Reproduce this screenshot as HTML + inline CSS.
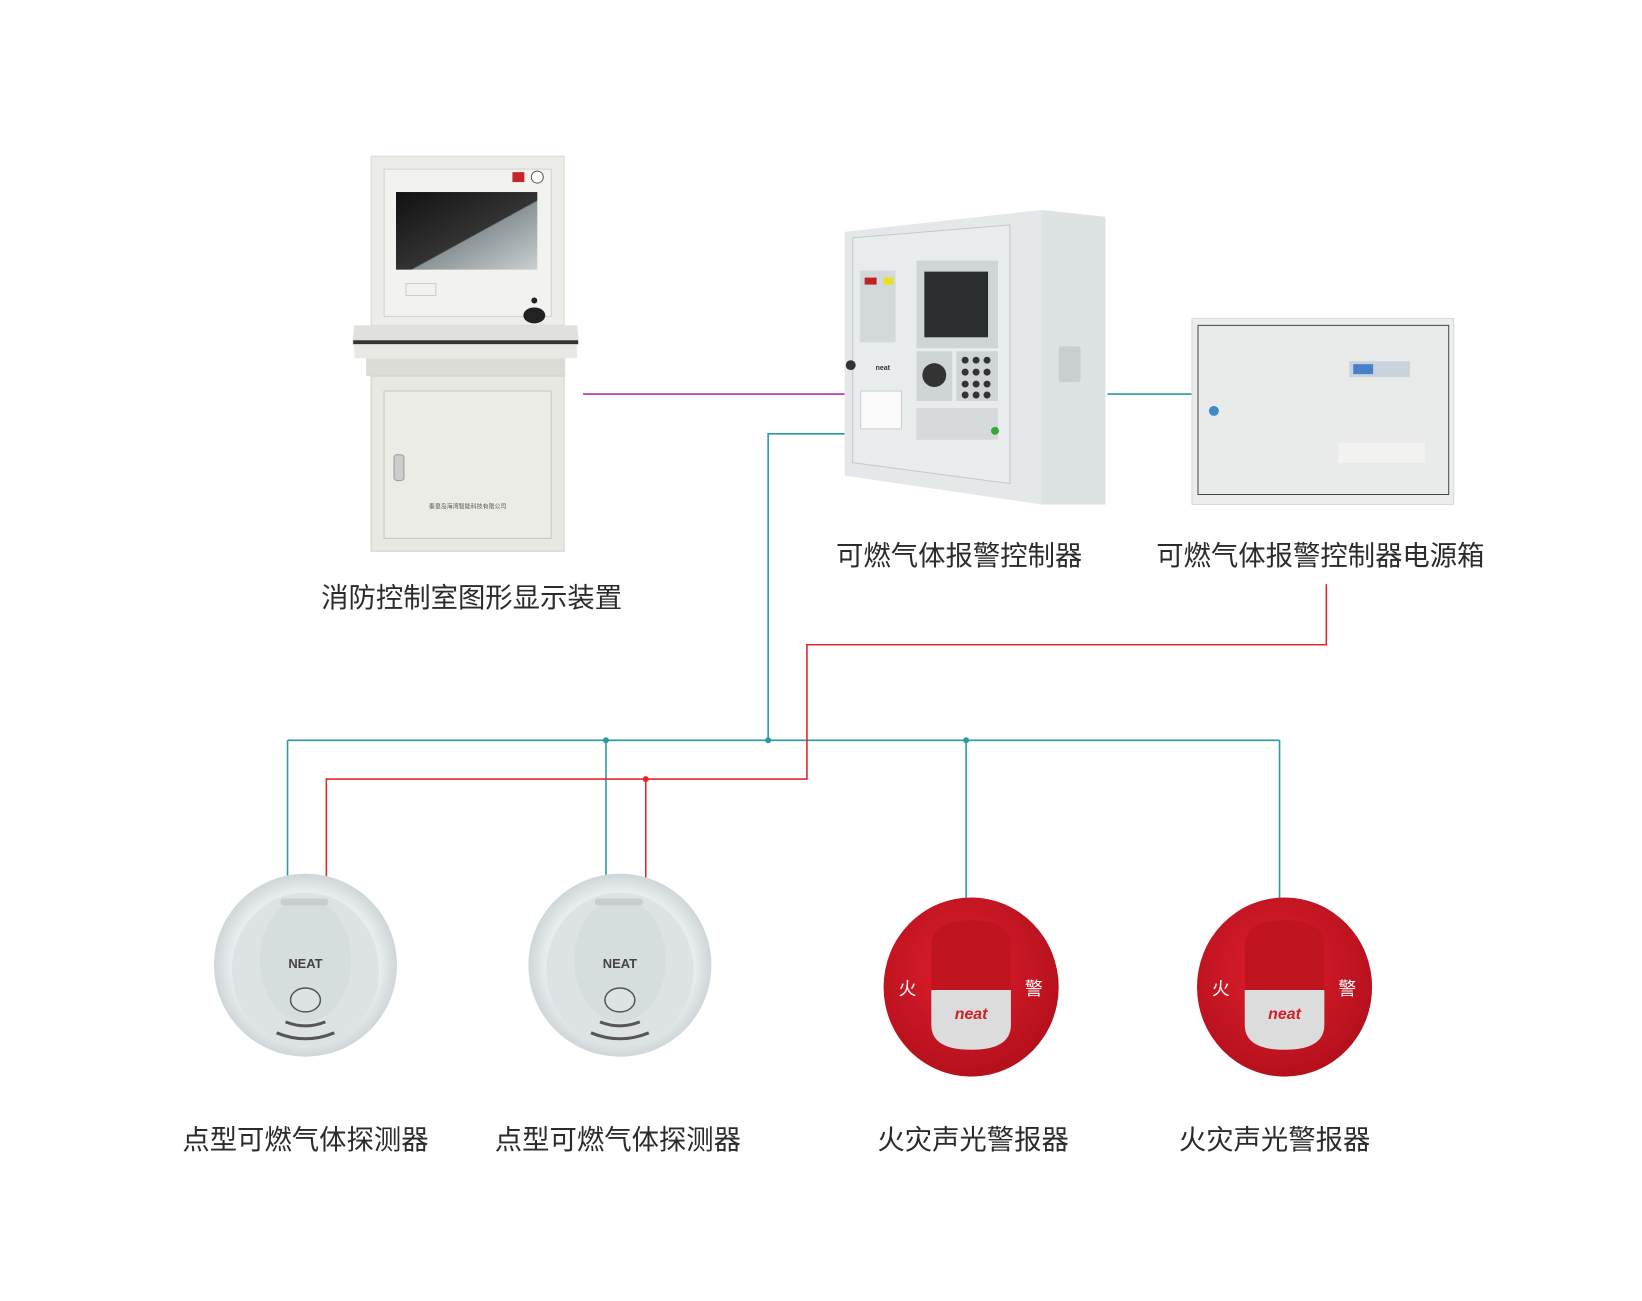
<!DOCTYPE html>
<html><head><meta charset="utf-8"><style>
html,body{margin:0;padding:0;background:#fff;}
svg{display:block}
text{font-family:"Liberation Sans","Noto Sans CJK SC",sans-serif;}
</style></head><body>
<svg width="1642" height="1301" viewBox="0 0 1642 1301" xmlns="http://www.w3.org/2000/svg">
<defs>
<linearGradient id="scr" x1="0" y1="0" x2="1" y2="1"><stop offset="0" stop-color="#111"/><stop offset="0.55" stop-color="#333"/><stop offset="0.56" stop-color="#8a9396"/><stop offset="1" stop-color="#c9d0d2"/></linearGradient>
<radialGradient id="det" cx="0.5" cy="0.5" r="0.5"><stop offset="0" stop-color="#dfe4e6"/><stop offset="0.8" stop-color="#e9edee"/><stop offset="1" stop-color="#cfd6d8"/></radialGradient>
<radialGradient id="red" cx="0.45" cy="0.4" r="0.6"><stop offset="0" stop-color="#e0202e"/><stop offset="1" stop-color="#b5101c"/></radialGradient>
</defs>
<g transform="scale(0.995)">
<!-- connectors -->
<g fill="none" stroke-width="1.6">
<line x1="586" y1="396" x2="849" y2="396" stroke="#b330b8"/>
<line x1="1113" y1="396" x2="1198" y2="396" stroke="#2a9a9e"/>
<polyline points="849,436 772,436 772,744" stroke="#2a9a9e"/>
<line x1="289" y1="744" x2="1286" y2="744" stroke="#2a9a9e"/>
<line x1="289" y1="744" x2="289" y2="882" stroke="#2a9a9e"/>
<line x1="609" y1="744" x2="609" y2="882" stroke="#2a9a9e"/>
<line x1="971" y1="744" x2="971" y2="903" stroke="#2a9a9e"/>
<line x1="1286" y1="744" x2="1286" y2="903" stroke="#2a9a9e"/>
<polyline points="1333,587 1333,648 811,648 811,783 328,783 328,882" stroke="#e5272d"/>
<line x1="649" y1="783" x2="649" y2="882" stroke="#e5272d"/>
</g>
<g fill="#2a9a9e"><circle cx="609" cy="744" r="3"/><circle cx="772" cy="744" r="3"/><circle cx="971" cy="744" r="3"/></g>
<circle cx="649" cy="783" r="3" fill="#e5272d"/>

<!-- graphic display station -->
<rect x="373" y="157" width="194" height="170" fill="#ececE8" stroke="#d8d8d2"/>
<rect x="386" y="170" width="168" height="148" fill="#f2f2ee" stroke="#d2d2cc"/>
<rect x="398" y="193" width="142" height="78" fill="url(#scr)"/>
<rect x="515" y="173" width="12" height="10" fill="#c8242b"/>
<circle cx="540" cy="178" r="6" fill="#fff" stroke="#555"/>
<rect x="408" y="285" width="30" height="12" fill="none" stroke="#ccc"/>
<ellipse cx="537" cy="317" rx="11" ry="8" fill="#222"/><circle cx="537" cy="302" r="3" fill="#222"/>
<path d="M356 327 L580 327 L582 346 L354 346 Z" fill="#e0e0dc"/>
<rect x="355" y="342" width="226" height="4" fill="#333"/>
<rect x="356" y="346" width="224" height="14" fill="#e8e8e4"/>
<rect x="368" y="360" width="200" height="18" fill="#dcdcd6"/>
<rect x="373" y="378" width="194" height="176" fill="#e8e8e2" stroke="#d0d0ca"/>
<rect x="386" y="393" width="168" height="148" fill="#ececE6" stroke="#c8c8c2"/>
<rect x="396" y="457" width="10" height="26" rx="3" fill="#ccc" stroke="#999"/>
<text x="470" y="511" font-size="6" fill="#555" text-anchor="middle">秦皇岛海湾智能科技有限公司</text>

<!-- controller -->
<path d="M849 233 L1047 211 L1111 218 L1111 507 L1047 507 L849 478 Z" fill="#e4e8e9"/>
<path d="M1047 211 L1111 218 L1111 507 L1047 507 Z" fill="#dde2e3"/>
<path d="M857 239 L1015 226 L1015 486 L857 465 Z" fill="#e9eced" stroke="#c3c8ca"/>
<rect x="864" y="272" width="36" height="72" fill="#d3d8da"/>
<rect x="869" y="279" width="12" height="7" fill="#c42020"/><rect x="888" y="279" width="10" height="7" fill="#e8e020"/>
<rect x="921" y="262" width="82" height="88" fill="#cfd4d6"/>
<rect x="929" y="273" width="64" height="66" fill="#2a2e31"/>
<rect x="921" y="353" width="36" height="50" fill="#cfd4d6"/>
<circle cx="939" cy="377" r="12" fill="#333"/>
<rect x="961" y="353" width="42" height="50" fill="#cfd4d6"/>
<g fill="#333"><circle cx="970" cy="362" r="3.5"/><circle cx="981" cy="362" r="3.5"/><circle cx="992" cy="362" r="3.5"/><circle cx="970" cy="374" r="3.5"/><circle cx="981" cy="374" r="3.5"/><circle cx="992" cy="374" r="3.5"/><circle cx="970" cy="386" r="3.5"/><circle cx="981" cy="386" r="3.5"/><circle cx="992" cy="386" r="3.5"/><circle cx="970" cy="397" r="3.5"/><circle cx="981" cy="397" r="3.5"/><circle cx="992" cy="397" r="3.5"/></g>
<rect x="921" y="410" width="82" height="32" fill="#d6dadc"/>
<circle cx="1000" cy="433" r="4" fill="#3a3"/>
<rect x="865" y="393" width="41" height="38" fill="#fafafa" stroke="#ccc"/>
<circle cx="855" cy="367" r="5" fill="#333"/>
<text x="880" y="372" font-size="7" fill="#333" font-weight="bold">neat</text>
<rect x="1064" y="348" width="22" height="36" rx="3" fill="#c9cecf"/>

<!-- power box -->
<rect x="1198" y="320" width="263" height="187" fill="#eceeee" stroke="#d5d8d8"/>
<rect x="1204" y="327" width="252" height="170" fill="#e9ebeb" stroke="#444" stroke-width="1"/>
<rect x="1356" y="363" width="61" height="16" fill="#c9d3dc"/><rect x="1360" y="366" width="20" height="10" fill="#4a80c8"/>
<circle cx="1220" cy="413" r="5" fill="#3a8bc8"/>
<rect x="1345" y="445" width="87" height="20" fill="#f2f2f0"/>

<!-- detectors -->
<g>
<ellipse cx="307" cy="970" rx="92" ry="92" fill="url(#det)"/>
<ellipse cx="307" cy="975" rx="74" ry="78" fill="#dde3e5"/>
<ellipse cx="307" cy="965" rx="46" ry="62" fill="#d6dddf"/>
<rect x="282" y="903" width="48" height="7" rx="3" fill="#c8ced0"/>
<text x="307" y="973" font-size="13" fill="#444" text-anchor="middle" font-weight="bold">NEAT</text>
<ellipse cx="307" cy="1005" rx="15" ry="12" fill="#dde2e3" stroke="#555" stroke-width="1.5"/>
<path d="M287 1027 Q307 1035 327 1027 M278 1038 Q307 1050 336 1038" stroke="#555" stroke-width="3" fill="none"/>
</g>
<g>
<ellipse cx="623" cy="970" rx="92" ry="92" fill="url(#det)"/>
<ellipse cx="623" cy="975" rx="74" ry="78" fill="#dde3e5"/>
<ellipse cx="623" cy="965" rx="46" ry="62" fill="#d6dddf"/>
<rect x="598" y="903" width="48" height="7" rx="3" fill="#c8ced0"/>
<text x="623" y="973" font-size="13" fill="#444" text-anchor="middle" font-weight="bold">NEAT</text>
<ellipse cx="623" cy="1005" rx="15" ry="12" fill="#dde2e3" stroke="#555" stroke-width="1.5"/>
<path d="M603 1027 Q623 1035 643 1027 M594 1038 Q623 1050 652 1038" stroke="#555" stroke-width="3" fill="none"/>
</g>

<!-- sounders -->
<g>
<ellipse cx="976" cy="992" rx="88" ry="90" fill="url(#red)"/>
<path d="M936 995 L936 950 Q936 925 976 925 Q1016 925 1016 950 L1016 995 Z" fill="#c0141f"/>
<path d="M936 995 L1016 995 L1016 1030 Q1016 1055 976 1055 Q936 1055 936 1030 Z" fill="#dcdcdc"/>
<text x="976" y="1024" font-size="16" fill="#d0202a" text-anchor="middle" font-weight="bold" font-style="italic">neat</text>
<text x="912" y="1000" font-size="18" fill="#fff" text-anchor="middle">火</text>
<text x="1039" y="1000" font-size="18" fill="#fff" text-anchor="middle">警</text>
</g>
<g>
<ellipse cx="1291" cy="992" rx="88" ry="90" fill="url(#red)"/>
<path d="M1251 995 L1251 950 Q1251 925 1291 925 Q1331 925 1331 950 L1331 995 Z" fill="#c0141f"/>
<path d="M1251 995 L1331 995 L1331 1030 Q1331 1055 1291 1055 Q1251 1055 1251 1030 Z" fill="#dcdcdc"/>
<text x="1291" y="1024" font-size="16" fill="#d0202a" text-anchor="middle" font-weight="bold" font-style="italic">neat</text>
<text x="1227" y="1000" font-size="18" fill="#fff" text-anchor="middle">火</text>
<text x="1354" y="1000" font-size="18" fill="#fff" text-anchor="middle">警</text>
</g>

<!-- labels -->
<g font-size="27.5" fill="#2b2b2b" text-anchor="middle">
<text x="474" y="610">消防控制室图形显示装置</text>
<text x="964" y="568">可燃气体报警控制器</text>
<text x="1327" y="568">可燃气体报警控制器电源箱</text>
<text x="307" y="1155">点型可燃气体探测器</text>
<text x="621" y="1155">点型可燃气体探测器</text>
<text x="978" y="1155">火灾声光警报器</text>
<text x="1281" y="1155">火灾声光警报器</text>
</g>
</g>
</svg>
</body></html>
